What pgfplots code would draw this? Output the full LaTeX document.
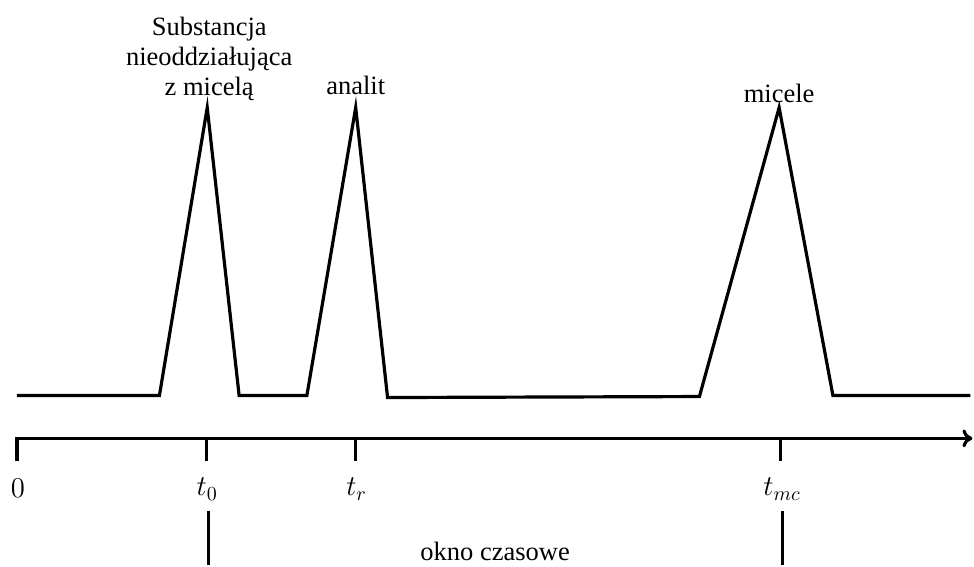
\documentclass[border=0pt]{standalone}
\usepackage{pgfplots}
\pgfplotsset{compat=1.18}
\usetikzlibrary{arrows.meta}
\usepackage{fontspec}
\setmainfont{Liberation Serif}
\begin{document}
\begin{tikzpicture}
\begin{axis}[
  x=0.5pt, y=0.5pt,
  xmin=0, xmax=974, ymin=0, ymax=567,
  hide axis, clip=false, scale only axis,
  ln/.style={black, solid, line width=1.6pt, mark=none, line join=miter},
]
\path (axis cs:0,0) rectangle (axis cs:974,567);
% signal (pixel coords, y inverted)
\addplot[ln] coordinates {(17,170) (160,170) (208,459) (240,170) (308,170) (357,459) (389,168) (702,169) (782,459) (836,170) (974,170)};
% time axis
\addplot[ln, -{To[length=5pt,width=9pt]}] coordinates {(16,127) (976,127)};
% ticks
\addplot[ln] coordinates {(17,128) (17,104)};
\addplot[ln] coordinates {(207,128) (207,104)};
\addplot[ln] coordinates {(357,128) (357,104)};
\addplot[ln] coordinates {(783,128) (783,104)};
% window lines
\addplot[ln] coordinates {(209,54) (209,0)};
\addplot[ln] coordinates {(785,54) (785,0)};
% labels
\node[font=\fontsize{14.5}{16}\selectfont] at (axis cs:18,77) {$0$};
\node[font=\fontsize{14.5}{16}\selectfont] at (axis cs:208,76) {$t_0$};
\node[font=\fontsize{14.5}{16}\selectfont] at (axis cs:358,76) {$t_r$};
\node[font=\fontsize{14.5}{16}\selectfont] at (axis cs:785,76) {$t_{mc}$};
\node[font=\fontsize{13.3}{15}\selectfont] at (axis cs:497,14) {okno czasowe};
\node[font=\fontsize{13.3}{15}\selectfont, align=center] at (axis cs:210,508) {Substancja\\nieoddziałująca\\z micelą};
\node[font=\fontsize{13.3}{15}\selectfont] at (axis cs:357,481) {analit};
\node[font=\fontsize{13.3}{15}\selectfont] at (axis cs:782,473) {micele};
\end{axis}
\end{tikzpicture}
\end{document}
